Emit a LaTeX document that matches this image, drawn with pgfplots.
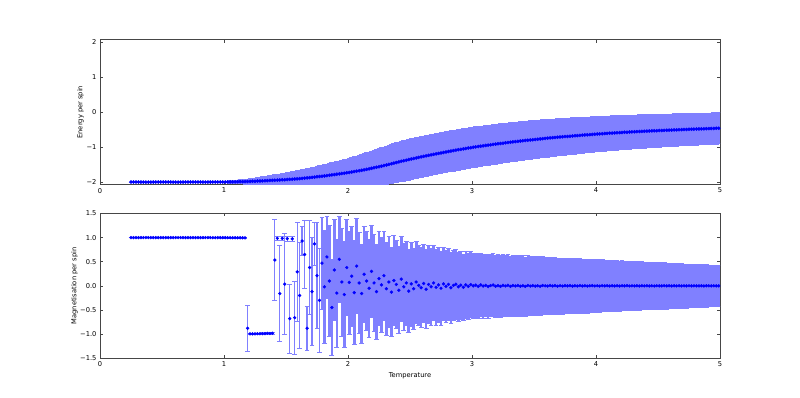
\documentclass[border=0pt]{standalone}
\usepackage{fontspec}
\setmainfont{DejaVu Sans}
\usepackage{pgfplots}
\usepackage{pgfplotstable}
\pgfplotsset{compat=1.18}
\definecolor{errc}{RGB}{128,128,255}
\definecolor{framec}{RGB}{70,70,70}
\pgfplotstableread{
T E dE M dM
0.25 -2.000 0.000 1.000 0.000
0.27 -2.000 0.000 1.000 0.000
0.29 -2.000 0.000 1.000 0.000
0.31 -2.000 0.000 1.000 0.000
0.33 -2.000 0.000 1.000 0.000
0.35 -2.000 0.000 1.000 0.000
0.37 -2.000 0.000 1.000 0.000
0.39 -2.000 0.000 1.000 0.000
0.41 -2.000 0.000 1.000 0.000
0.43 -2.000 0.000 1.000 0.000
0.45 -2.000 0.000 1.000 0.000
0.47 -2.000 0.000 1.000 0.000
0.49 -2.000 0.000 1.000 0.000
0.51 -2.000 0.000 1.000 0.000
0.53 -2.000 0.000 1.000 0.000
0.55 -2.000 0.000 1.000 0.000
0.57 -2.000 0.000 1.000 0.000
0.59 -2.000 0.000 1.000 0.000
0.61 -2.000 0.001 1.000 0.000
0.63 -2.000 0.001 1.000 0.000
0.65 -2.000 0.001 1.000 0.000
0.67 -2.000 0.001 1.000 0.000
0.69 -2.000 0.001 1.000 0.000
0.71 -2.000 0.001 1.000 0.000
0.73 -2.000 0.001 1.000 0.000
0.75 -2.000 0.002 1.000 0.000
0.77 -2.000 0.002 1.000 0.000
0.79 -2.000 0.002 1.000 0.000
0.81 -2.000 0.003 1.000 0.001
0.83 -2.000 0.004 1.000 0.001
0.85 -2.000 0.005 1.000 0.001
0.87 -1.999 0.006 1.000 0.001
0.89 -1.999 0.007 1.000 0.002
0.91 -1.999 0.009 0.999 0.002
0.93 -1.998 0.010 0.999 0.002
0.95 -1.998 0.012 0.999 0.003
0.97 -1.998 0.015 0.999 0.003
0.99 -1.997 0.018 0.999 0.004
1.01 -1.997 0.022 0.999 0.004
1.03 -1.996 0.026 0.998 0.005
1.05 -1.995 0.030 0.998 0.005
1.07 -1.994 0.036 0.998 0.006
1.09 -1.993 0.042 0.997 0.007
1.11 -1.991 0.048 0.997 0.008
1.13 -1.990 0.054 0.996 0.009
1.15 -1.988 0.060 0.996 0.010
1.17 -1.986 0.067 0.995 0.012
1.19 -1.983 0.074 -0.880 0.470
1.21 -1.981 0.081 -0.995 0.012
1.23 -1.978 0.088 -0.994 0.013
1.25 -1.975 0.095 -0.994 0.014
1.27 -1.972 0.102 -0.993 0.015
1.29 -1.969 0.109 -0.993 0.016
1.31 -1.966 0.116 -0.992 0.018
1.33 -1.962 0.123 -0.990 0.020
1.35 -1.959 0.130 -0.985 0.025
1.37 -1.955 0.138 -0.988 0.022
1.39 -1.952 0.146 -0.984 0.028
1.41 -1.948 0.154 0.535 0.840
1.43 -1.944 0.162 0.985 0.040
1.45 -1.940 0.170 -0.160 1.000
1.47 -1.936 0.178 0.985 0.040
1.49 -1.932 0.186 0.035 1.050
1.51 -1.928 0.194 0.980 0.050
1.53 -1.923 0.203 -0.680 0.720
1.55 -1.918 0.212 0.975 0.060
1.57 -1.913 0.221 -0.660 0.750
1.59 -1.908 0.230 0.290 1.020
1.61 -1.902 0.240 -0.200 1.100
1.63 -1.896 0.249 0.930 0.300
1.65 -1.889 0.258 0.650 0.700
1.67 -1.882 0.267 -0.880 0.450
1.69 -1.874 0.276 0.380 0.980
1.71 -1.866 0.284 -0.120 1.120
1.73 -1.859 0.292 0.870 0.450
1.75 -1.851 0.300 0.210 1.100
1.77 -1.843 0.308 -0.300 1.080
1.79 -1.834 0.316 0.470 0.950
1.81 -1.825 0.324 -0.020 1.180
1.83 -1.816 0.332 0.600 0.850
1.85 -1.806 0.340 0.100 1.150
1.87 -1.796 0.348 -0.450 1.000
1.89 -1.786 0.356 0.330 1.050
1.91 -1.776 0.364 -0.150 1.120
1.93 -1.766 0.372 0.550 0.900
1.95 -1.756 0.380 0.080 1.120
1.97 -1.746 0.388 -0.180 1.100
1.99 -1.735 0.396 0.380 1.000
2.01 -1.724 0.405 0.070 1.070
2.03 -1.713 0.415 0.200 1.040
2.05 -1.701 0.425 -0.140 1.080
2.07 -1.689 0.435 0.410 0.980
2.09 -1.676 0.445 0.060 1.050
2.11 -1.663 0.455 -0.160 1.030
2.13 -1.650 0.465 0.240 1.000
2.15 -1.636 0.475 0.100 1.030
2.17 -1.622 0.485 -0.050 1.010
2.19 -1.607 0.495 0.300 0.960
2.21 -1.592 0.504 0.060 1.000
2.23 -1.577 0.512 -0.120 0.980
2.25 -1.561 0.520 0.150 0.970
2.27 -1.545 0.528 0.020 0.990
2.29 -1.529 0.536 0.210 0.930
2.31 -1.511 0.543 -0.060 0.960
2.33 -1.494 0.550 0.080 0.940
2.35 -1.476 0.556 -0.130 0.920
2.37 -1.458 0.561 0.110 0.930
2.39 -1.441 0.566 0.030 0.910
2.41 -1.423 0.570 -0.090 0.900
2.43 -1.406 0.573 0.140 0.880
2.45 -1.390 0.576 -0.020 0.900
2.47 -1.374 0.578 0.060 0.870
2.49 -1.358 0.580 -0.110 0.860
2.51 -1.342 0.581 0.040 0.870
2.53 -1.326 0.582 -0.060 0.840
2.55 -1.310 0.582 0.080 0.850
2.57 -1.295 0.583 0.010 0.830
2.59 -1.280 0.583 -0.040 0.830
2.61 -1.265 0.583 0.050 0.810
2.63 -1.250 0.583 -0.070 0.820
2.65 -1.236 0.583 0.030 0.800
2.67 -1.222 0.583 -0.020 0.800
2.69 -1.208 0.583 0.060 0.780
2.71 -1.194 0.583 -0.030 0.790
2.73 -1.180 0.582 0.020 0.770
2.75 -1.166 0.582 -0.050 0.770
2.77 -1.152 0.582 0.040 0.760
2.79 -1.139 0.581 -0.010 0.750
2.81 -1.126 0.581 0.030 0.740
2.83 -1.113 0.580 -0.040 0.740
2.85 -1.100 0.580 0.010 0.720
2.87 -1.088 0.579 0.035 0.730
2.89 -1.075 0.578 -0.020 0.710
2.91 -1.063 0.578 0.015 0.710
2.93 -1.051 0.577 -0.030 0.690
2.95 -1.039 0.577 0.020 0.700
2.97 -1.027 0.576 -0.010 0.680
2.99 -1.016 0.575 0.025 0.680
3.01 -1.005 0.575 0.000 0.670
3.03 -0.994 0.574 0.015 0.662
3.05 -0.984 0.573 -0.010 0.668
3.07 -0.974 0.572 0.020 0.655
3.09 -0.964 0.571 -0.005 0.660
3.11 -0.954 0.570 0.010 0.650
3.13 -0.944 0.569 -0.015 0.655
3.15 -0.934 0.568 0.005 0.645
3.17 -0.924 0.567 0.018 0.648
3.19 -0.914 0.566 -0.008 0.640
3.21 -0.905 0.565 0.004 0.645
3.23 -0.896 0.563 -0.012 0.636
3.25 -0.887 0.562 0.010 0.640
3.27 -0.878 0.560 -0.003 0.630
3.29 -0.869 0.559 0.012 0.634
3.31 -0.860 0.558 -0.010 0.625
3.33 -0.852 0.556 0.006 0.630
3.35 -0.843 0.555 -0.002 0.621
3.37 -0.835 0.553 0.009 0.626
3.39 -0.826 0.552 -0.007 0.617
3.41 -0.818 0.551 0.003 0.620
3.43 -0.810 0.549 -0.011 0.612
3.45 -0.803 0.548 0.008 0.616
3.47 -0.795 0.546 -0.004 0.607
3.49 -0.788 0.545 0.006 0.611
3.51 -0.780 0.544 -0.006 0.602
3.53 -0.773 0.542 0.002 0.606
3.55 -0.766 0.541 -0.009 0.597
3.57 -0.759 0.539 0.007 0.601
3.59 -0.752 0.538 0.000 0.592
3.61 -0.745 0.536 -0.005 0.596
3.63 -0.738 0.534 0.008 0.587
3.65 -0.731 0.533 -0.002 0.591
3.67 -0.725 0.531 0.005 0.582
3.69 -0.718 0.529 -0.007 0.586
3.71 -0.712 0.528 0.003 0.577
3.73 -0.706 0.526 -0.004 0.581
3.75 -0.700 0.524 0.006 0.572
3.77 -0.694 0.523 -0.001 0.576
3.79 -0.688 0.521 0.004 0.567
3.81 -0.682 0.520 -0.006 0.570
3.83 -0.676 0.518 0.002 0.562
3.85 -0.670 0.516 -0.003 0.565
3.87 -0.665 0.514 0.005 0.557
3.89 -0.659 0.512 -0.002 0.560
3.91 -0.653 0.511 0.003 0.552
3.93 -0.648 0.509 -0.005 0.555
3.95 -0.643 0.507 0.001 0.547
3.97 -0.637 0.505 0.004 0.550
3.99 -0.632 0.504 -0.003 0.541
4.01 -0.627 0.502 0.002 0.544
4.03 -0.622 0.501 -0.004 0.536
4.05 -0.617 0.499 0.003 0.539
4.07 -0.612 0.498 -0.001 0.531
4.09 -0.608 0.496 0.004 0.534
4.11 -0.603 0.495 -0.003 0.526
4.13 -0.599 0.493 0.001 0.529
4.15 -0.594 0.492 -0.002 0.521
4.17 -0.590 0.490 0.003 0.524
4.19 -0.585 0.489 -0.004 0.516
4.21 -0.581 0.487 0.002 0.519
4.23 -0.577 0.486 -0.001 0.511
4.25 -0.573 0.484 0.003 0.514
4.27 -0.569 0.483 -0.003 0.506
4.29 -0.565 0.482 0.001 0.509
4.31 -0.562 0.480 -0.002 0.501
4.33 -0.558 0.479 0.002 0.504
4.35 -0.554 0.478 -0.003 0.497
4.37 -0.550 0.476 0.003 0.499
4.39 -0.547 0.475 -0.001 0.492
4.41 -0.543 0.474 0.002 0.494
4.43 -0.540 0.473 -0.002 0.487
4.45 -0.536 0.471 0.001 0.490
4.47 -0.533 0.470 -0.003 0.483
4.49 -0.530 0.469 0.002 0.485
4.51 -0.527 0.468 0.000 0.478
4.53 -0.524 0.467 -0.002 0.481
4.55 -0.521 0.466 0.003 0.474
4.57 -0.518 0.465 -0.001 0.476
4.59 -0.515 0.464 0.002 0.469
4.61 -0.512 0.463 -0.002 0.471
4.63 -0.509 0.462 0.001 0.464
4.65 -0.506 0.461 -0.001 0.466
4.67 -0.503 0.460 0.002 0.459
4.69 -0.500 0.459 -0.002 0.461
4.71 -0.497 0.458 0.001 0.454
4.73 -0.494 0.457 -0.001 0.456
4.75 -0.492 0.456 0.002 0.449
4.77 -0.489 0.455 -0.002 0.451
4.79 -0.486 0.454 0.001 0.445
4.81 -0.484 0.453 0.000 0.446
4.83 -0.481 0.452 -0.001 0.440
4.85 -0.478 0.451 0.001 0.442
4.87 -0.476 0.450 -0.002 0.436
4.89 -0.473 0.449 0.001 0.438
4.91 -0.471 0.448 0.000 0.432
4.93 -0.468 0.447 -0.001 0.434
4.95 -0.466 0.446 0.001 0.428
4.97 -0.463 0.445 -0.001 0.430
4.99 -0.461 0.444 0.000 0.425
}\data

\pgfplotsset{
  mystyle/.style={
    scale only axis, width=620pt, height=144.7pt,
    anchor=south west,
    xmin=0, xmax=5,
    xtick={0,1,2,3,4,5}, xticklabels={0,1,2,3,4,5},
    font=\fontsize{6.7}{8}\selectfont,
    axis line style={framec, line width=0.8pt},
    tick style={framec, line width=0.6pt},
    major tick length=3pt,
    tick align=inside,
    ylabel style={anchor=center},
  },
  errplot/.style={
    draw=none, mark=none, forget plot,
    error bars/.cd, y dir=both, y explicit,
    error mark=|,
    error bar style={line width=#1, color=errc},
    error mark options={line width=0.7pt, mark size=2.4pt, color=errc},
  },
  dotplot/.style={
    only marks, mark=*, color=blue, forget plot,
  }
}

\begin{document}
\begin{tikzpicture}
\useasboundingbox (0,0) rectangle (800pt,398pt);
\begin{axis}[mystyle, at={(100pt,213.5pt)},
  ymin=-2.07, ymax=2.07,
  ytick={-2,-1,0,1,2}, yticklabels={−2,−1,0,1,2},
  ylabel={Energy per spin},
  ylabel style={at={(axis description cs:-0.0315,0.5)}}]
\addplot[errplot=2.6pt] table[x=T, y=E, y error=dE]{\data};
\addplot[mark size=1.6pt, dotplot] table[x=T, y=E]{\data};
\end{axis}
\begin{axis}[mystyle, at={(100pt,39.8pt)},
  ymin=-1.5, ymax=1.5,
  ytick={-1.5,-1,-0.5,0,0.5,1,1.5}, yticklabels={−1.5,−1.0,−0.5,0.0,0.5,1.0,1.5},
  ylabel={Magnetisation per spin},
  ylabel style={at={(axis description cs:-0.041,0.5)}},
  xlabel={Temperature},
  xlabel style={at={(axis description cs:0.5,-0.123)}, anchor=center}]
\addplot[restrict x to domain=0:1.8, errplot=1.3pt] table[x=T, y=M, y error=dM]{\data};
\addplot[restrict x to domain=1.8:5, errplot=2.6pt] table[x=T, y=M, y error=dM]{\data};
\addplot[mark size=1.45pt, dotplot] table[x=T, y=M]{\data};
\end{axis}
\end{tikzpicture}
\end{document}
